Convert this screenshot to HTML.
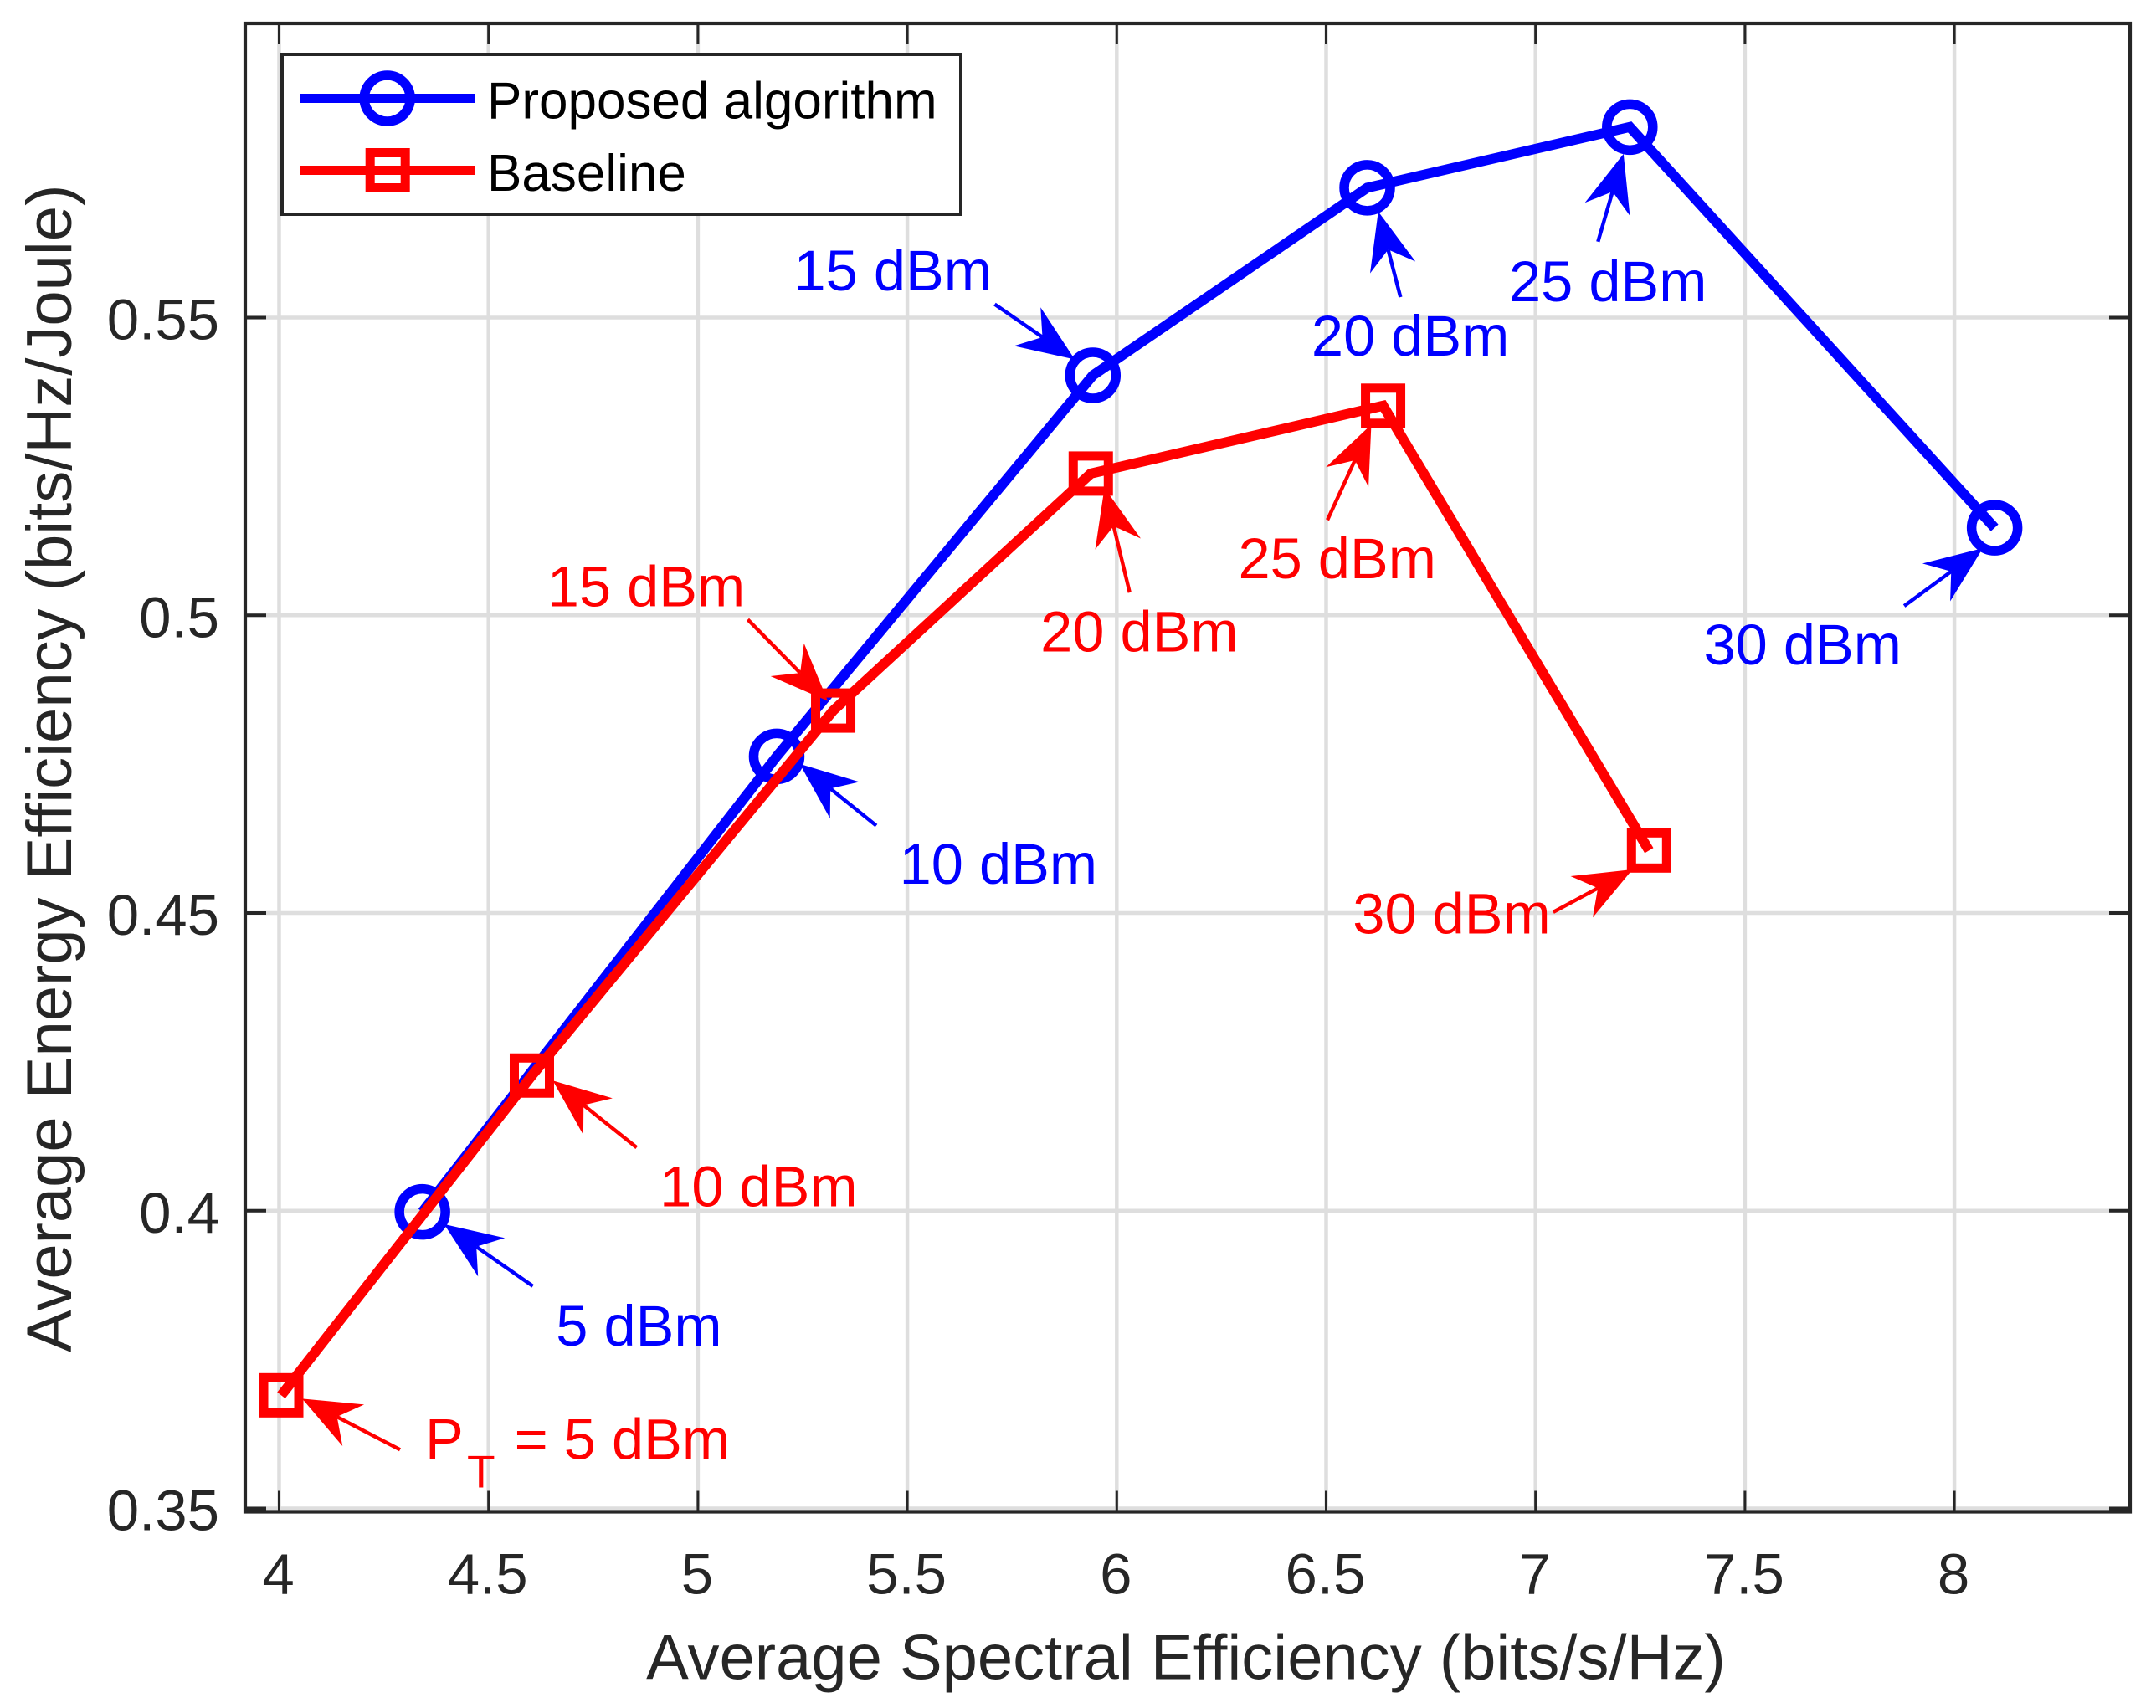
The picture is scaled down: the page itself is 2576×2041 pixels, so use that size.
<!DOCTYPE html>
<html lang="en">
<head>
<meta charset="utf-8">
<title>Average Energy Efficiency vs Average Spectral Efficiency</title>
<style>
html,body{margin:0;padding:0;background:#fff;}
svg{display:block;}
text{font-family:"Liberation Sans",Arial,sans-serif;}
</style>
</head>
<body>
<svg id="chart" xmlns="http://www.w3.org/2000/svg" width="2576" height="2041" viewBox="0 0 2576 2041">
  <rect x="0" y="0" width="2576" height="2041" fill="#ffffff"/>
  <g id="grid"></g>
  <g id="series"></g>
  <g id="ticks"></g>
  <rect x="293" y="28" width="2252" height="1778.5" fill="none" stroke="#262626" stroke-width="4.2"/>
  <g id="tick-labels"></g>
  <g id="annotations"></g>
  <text x="1417" y="2006.5" font-size="76" text-anchor="middle" fill="#262626">Average Spectral Efficiency (bits/s/Hz)</text>
  <text x="0" y="0" transform="translate(85 1616) rotate(-90)" font-size="76" fill="#262626">Average Energy Efficiency (bits/Hz/Joule)</text>
  <g>
    <rect x="337" y="65" width="811" height="191" fill="#ffffff" stroke="#262626" stroke-width="4"/>
    <g>
      <line x1="358" y1="117.5" x2="567" y2="117.5" stroke="#0000ff" stroke-width="11"/>
      <circle cx="462.7" cy="117.5" r="27.5" fill="none" stroke="#0000ff" stroke-width="11.5"/>
      <text x="582" y="141.7" font-size="62" fill="#000000">Proposed algorithm</text>
    </g>
    <g>
      <line x1="358" y1="203.5" x2="567" y2="203.5" stroke="#ff0000" stroke-width="11"/>
      <rect x="442.2" y="182.5" width="42" height="42" fill="none" stroke="#ff0000" stroke-width="11"/>
      <text x="582" y="228" font-size="62" fill="#000000">Baseline</text>
    </g>
  </g>
</svg>
<script>
// ---- chart data ----
const xTicks = [4, 4.5, 5, 5.5, 6, 6.5, 7, 7.5, 8];
const xTickLabels = ['4', '4.5', '5', '5.5', '6', '6.5', '7', '7.5', '8'];
const yTicks = [0.35, 0.4, 0.45, 0.5, 0.55];
const yTickLabels = ['0.35', '0.4', '0.45', '0.5', '0.55'];
const proposedX = [4.342, 5.188, 5.943, 6.598, 7.225, 8.096];
const proposedY = [0.3998, 0.4763, 0.5403, 0.5718, 0.582, 0.5147];
const baselineX = [4.005, 4.6035, 5.323, 5.938, 6.636, 7.271];
const baselineY = [0.369, 0.4227, 0.484, 0.5238, 0.5352, 0.4605];
const proposedLabels = ['5 dBm', '10 dBm', '15 dBm', '20 dBm', '25 dBm', '30 dBm'];
const baselineLabels = ['= 5 dBm', '10 dBm', '15 dBm', '20 dBm', '25 dBm', '30 dBm'];

// ---- callout layout, relative to each point: tail dx,dy / tip dx,dy / label dx,dy ----
const proposedCallouts = [
  [132, 88.7, 26, 14.7, 357.9, 159.7],
  [119, 82.7, 27.6, 9, 383.1, 152],
  [-117.3, -85, -21.6, -19, -120.9, -101.6],
  [39.8, 130.7, 13.2, 28.4, 169.8, 200.7],
  [-38, 137, -7.5, 32, 92.1, 208],
  [-108, 93.4, -14, 24.4, -111.2, 163.3]
];
const baselineCallouts = [
  [142, 65, 25, 4, 536, 76],
  [125.2, 86, 25, 6, 389.1, 156.4],
  [-102.1, -108.8, -6.5, -11.5, -105.4, -124.8],
  [46.5, 142.2, 16.3, 17.1, 176.3, 212.5],
  [-66.5, 136.5, -14.1, 22.5, 63.3, 206.2],
  [-114.5, 73.7, -19.8, 22.7, -117.6, 99.4]
];

// ---- axis functions ----
function X(v) { return 333.5 + (v - 4) * 500.4; }
function Y(v) { return 379.5 + (0.55 - v) * 7115; }

const NS = 'http://www.w3.org/2000/svg';
const PLOT = { left: 293, right: 2545, top: 28, bottom: 1806.5 };
function mk(tag, attrs, parent) {
  const el = document.createElementNS(NS, tag);
  for (const k in attrs) el.setAttribute(k, attrs[k]);
  parent.appendChild(el);
  return el;
}

const gridG = document.getElementById('grid');
const ticksG = document.getElementById('ticks');
const tickLabelsG = document.getElementById('tick-labels');
const seriesG = document.getElementById('series');
const annG = document.getElementById('annotations');

xTicks.forEach(function (t, i) {
  const px = X(t);
  const g = mk('line', { x1: px, y1: PLOT.top, x2: px, y2: PLOT.bottom, stroke: '#dedede', 'stroke-width': 4.5 }, gridG);
  
  
  const b = mk('line', { x1: px, y1: PLOT.bottom, x2: px, y2: PLOT.bottom - 25, stroke: '#262626', 'stroke-width': 3 }, ticksG);
  
  
  const u = mk('line', { x1: px, y1: PLOT.top, x2: px, y2: PLOT.top + 25, stroke: '#262626', 'stroke-width': 3 }, ticksG);
  
  
  const l = mk('text', { x: px - 1, y: 1904.5, 'font-size': 69, 'text-anchor': 'middle', fill: '#262626' }, tickLabelsG);
  
  
  l.textContent = xTickLabels[i];
});

yTicks.forEach(function (t, i) {
  const py = Y(t);
  const g = mk('line', { x1: PLOT.left, y1: py, x2: PLOT.right, y2: py, stroke: '#dedede', 'stroke-width': 4.5 }, gridG);
  
  
  const a = mk('line', { x1: PLOT.left, y1: py, x2: PLOT.left + 25, y2: py, stroke: '#262626', 'stroke-width': 4 }, ticksG);
  
  
  const c = mk('line', { x1: PLOT.right, y1: py, x2: PLOT.right - 25, y2: py, stroke: '#262626', 'stroke-width': 4 }, ticksG);
  
  
  const l = mk('text', { x: 262, y: py + 26, 'font-size': 69, 'text-anchor': 'end', fill: '#262626' }, tickLabelsG);
  
  
  l.textContent = yTickLabels[i];
});

function drawLine(xs, ys, color, parent) {
  const pts = xs.map(function (x, i) { return X(x) + ',' + Y(ys[i]); }).join(' ');
  return mk('polyline', { points: pts, fill: 'none', stroke: color, 'stroke-width': 12, 'stroke-linejoin': 'miter', 'stroke-linecap': 'butt' }, parent);
}

// proposed series
const proposedLine = drawLine(proposedX, proposedY, '#0000ff', seriesG);


proposedX.forEach(function (x, i) {
  const c = mk('circle', { cx: X(x), cy: Y(proposedY[i]), r: 27.5, fill: 'none', stroke: '#0000ff', 'stroke-width': 11.5 }, seriesG);
  
  
});

// baseline series
const baselineLine = drawLine(baselineX, baselineY, '#ff0000', seriesG);


baselineX.forEach(function (x, i) {
  const s = mk('rect', { x: X(x) - 21, y: Y(baselineY[i]) - 21, width: 42, height: 42, fill: 'none', stroke: '#ff0000', 'stroke-width': 11 }, seriesG);
  
  
});

// arrows with swept-back heads
function drawArrow(px, py, c, color) {
  const tx = px + c[0], ty = py + c[1], hx = px + c[2], hy = py + c[3];
  const len = Math.hypot(tx - hx, ty - hy);
  const ux = (tx - hx) / len, uy = (ty - hy) / len;
  const wing = 69, half = 28, notch = 47;
  const nx = hx + ux * notch, ny = hy + uy * notch;
  const shaft = mk('line', { x1: tx, y1: ty, x2: nx, y2: ny, stroke: color, 'stroke-width': 4.4 }, annG);
  
  
  const a = [hx + ux * wing - uy * half, hy + uy * wing + ux * half];
  const b = [hx + ux * wing + uy * half, hy + uy * wing - ux * half];
  const head = mk('polygon', { points: hx + ',' + hy + ' ' + a.join(',') + ' ' + nx + ',' + ny + ' ' + b.join(','), fill: color }, annG);
  
  
}

proposedX.forEach(function (x, i) {
  const c = proposedCallouts[i], px = X(x), py = Y(proposedY[i]);
  drawArrow(px, py, c, '#0000ff');
  const l = mk('text', { x: px + c[4], y: py + c[5], 'font-size': 68.6, 'text-anchor': 'end', fill: '#0000ff' }, annG);
  
  
  l.textContent = proposedLabels[i];
});

baselineX.forEach(function (x, i) {
  const c = baselineCallouts[i], px = X(x), py = Y(baselineY[i]);
  drawArrow(px, py, c, '#ff0000');
  const l = mk('text', { x: px + c[4], y: py + c[5], 'font-size': 68.6, 'text-anchor': 'end', fill: '#ff0000' }, annG);
  
  
  l.textContent = baselineLabels[i];
  if (i === 0) {
    const p = mk('text', { x: px + c[4] - 364, y: py + c[5], 'font-size': 68.6, fill: '#ff0000' }, annG);
    
    
    p.textContent = 'P';
    const sub = mk('text', { x: px + c[4] - 314, y: py + c[5] + 34, 'font-size': 55, fill: '#ff0000' }, annG);
    
    
    sub.textContent = 'T';
  }
});
</script>
</body>
</html>
